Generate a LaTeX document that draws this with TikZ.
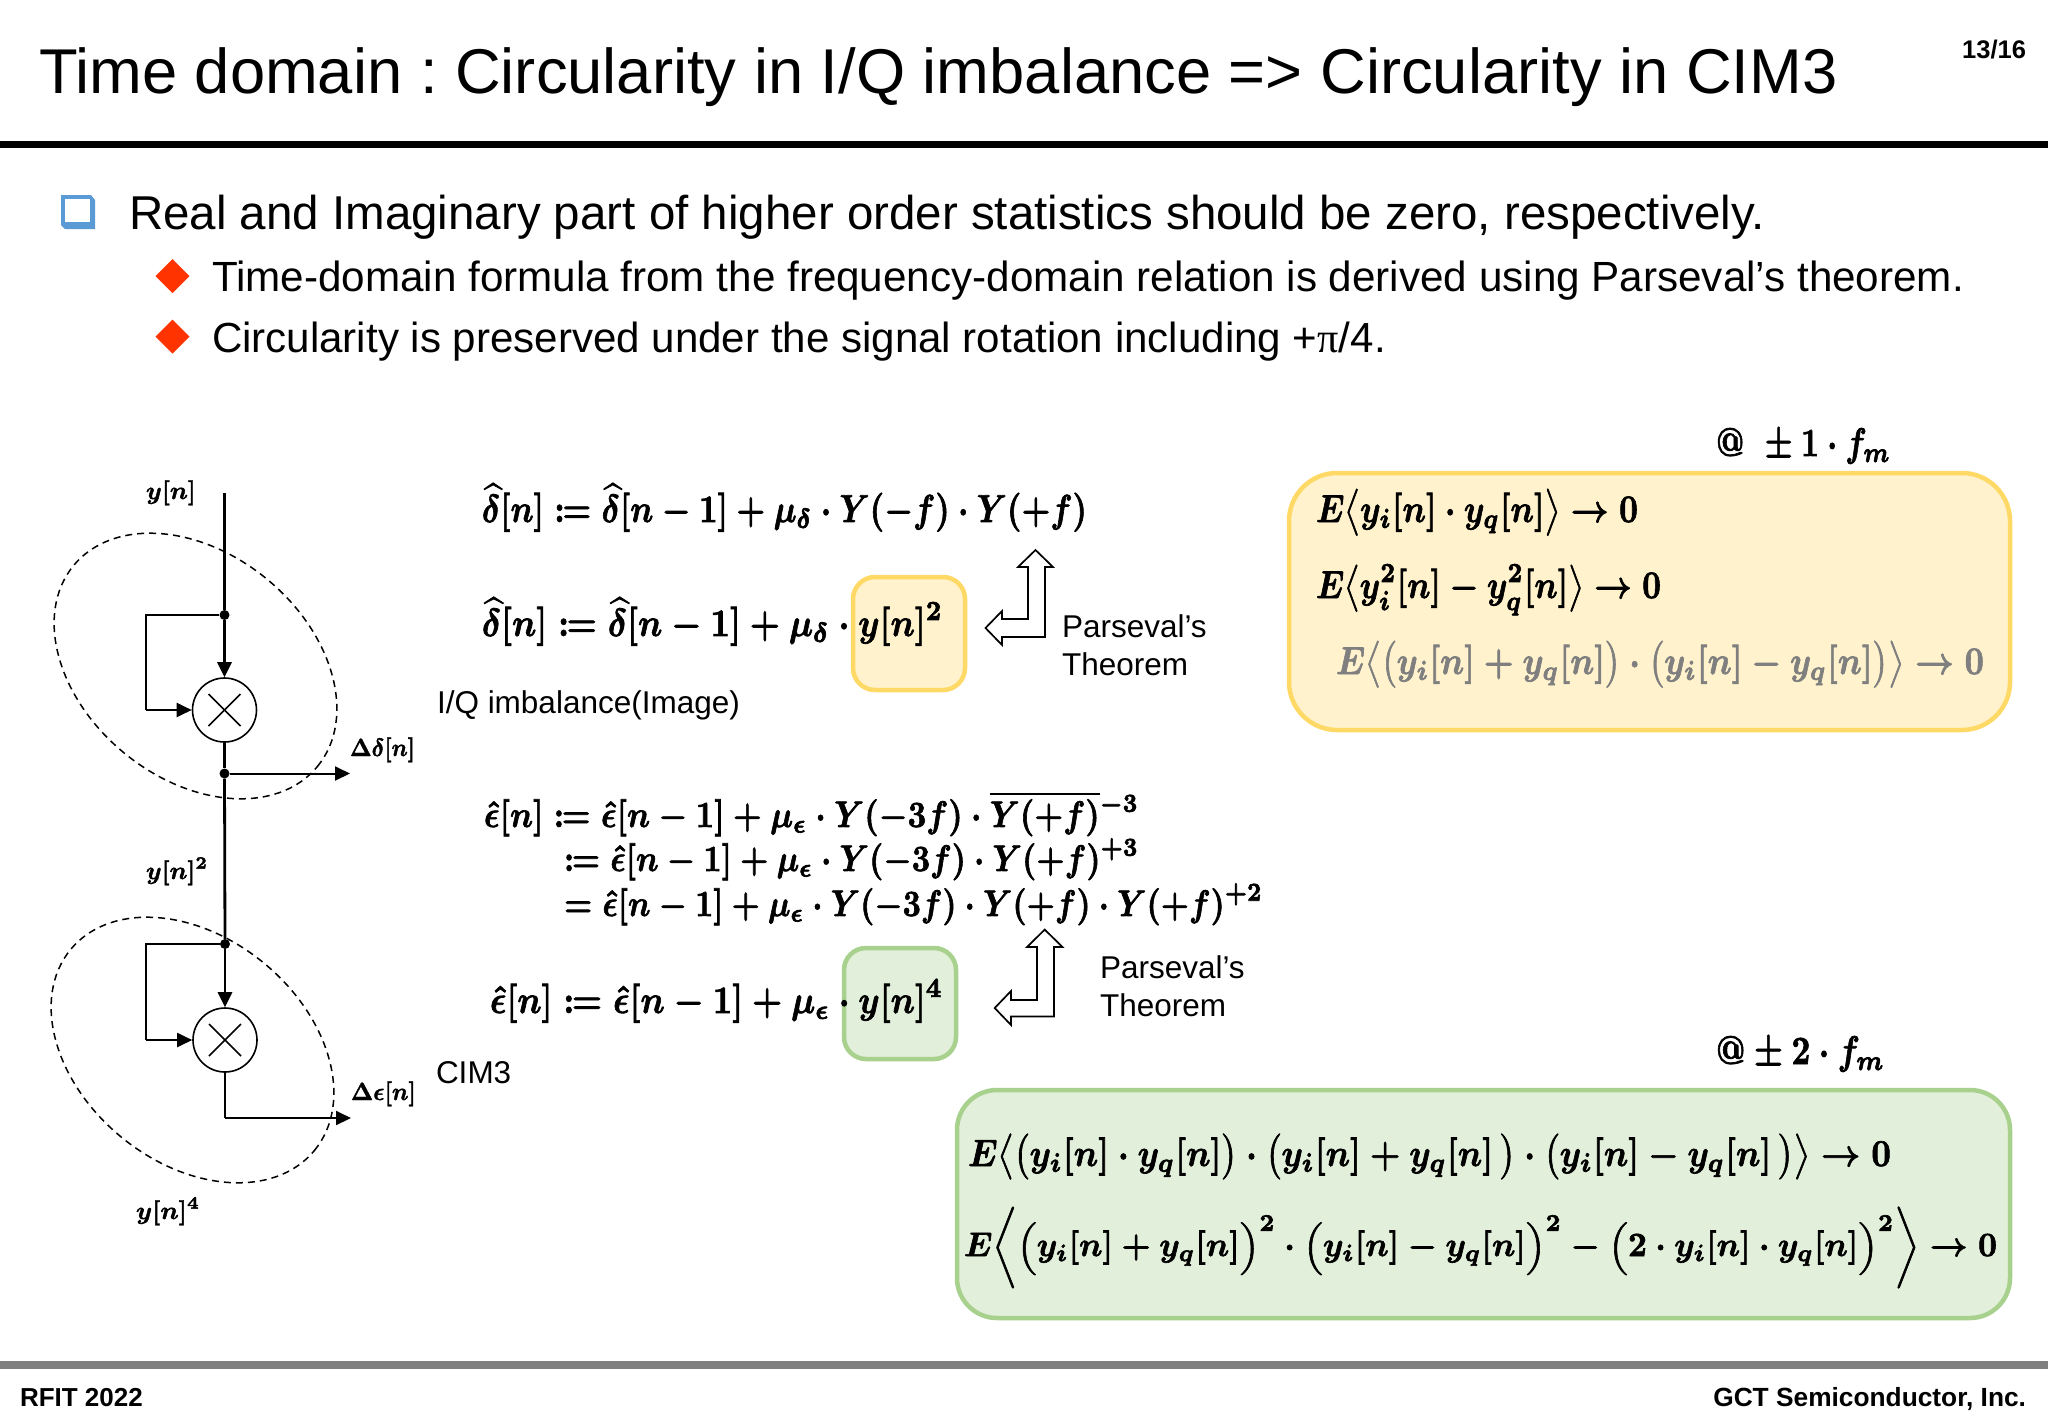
\documentclass[tikz,border=0pt]{standalone}
\usepackage[no-math]{fontspec}
\usepackage{amsmath}
\usepackage{graphicx}
\setmainfont{Liberation Sans}
\newfontfamily\symfam{Liberation Serif}
\frenchspacing
\usetikzlibrary{arrows.meta,shapes.geometric,calc}
\definecolor{yfill}{HTML}{FFF2CC}
\definecolor{ydraw}{HTML}{FFD966}
\definecolor{gfill}{HTML}{E2EFDA}
\definecolor{gdraw}{HTML}{A9D18E}
\definecolor{bluebul}{HTML}{5B9BD5}
\definecolor{redbul}{HTML}{FF3300}
\definecolor{rulegray}{HTML}{808080}
\definecolor{mgray}{HTML}{7F7F7F}
\newsavebox\fmbox
% width target, vertical scale, formula
\newcommand\fm[3]{\sbox\fmbox{\boldmath$\displaystyle #3$}\pgfmathsetmacro\fmhs{#1/\wd\fmbox}\scalebox{\fmhs}[#2]{\special{pdf:code 2 Tr 0.18 w}\usebox\fmbox\special{pdf:code 0 Tr}}}
\newcommand\cq{\mathrel{:\mkern-1.2mu=}}
\newcommand\sO{\mathopen{\scalebox{1}[0.86]{$\Bigl($}}}
\newcommand\sC{\mathclose{\scalebox{1}[0.86]{$\Bigr)$}}}
\tikzset{
  txt/.style={anchor=base west,inner sep=0pt,outer sep=0pt,align=left},
  txtr/.style={anchor=base east,inner sep=0pt,outer sep=0pt},
  mth/.style={anchor=base west,inner sep=0pt,outer sep=0pt},
  mult/.style={circle,draw,line width=1.6pt,minimum size=64pt,inner sep=0pt,fill=white},
  jdot/.style={circle,fill=black,minimum size=10pt,inner sep=0pt},
  loopc/.style={draw,ellipse,line width=1.5pt,dash pattern=on 7pt off 5pt,minimum width=316pt,minimum height=225pt,inner sep=0pt,rotate=-39.5},
  mainw/.style={line width=2.8pt},
  thinw/.style={line width=2pt},
  arr/.style={-{Triangle[length=15pt,width=14pt]}},
  hollow/.style={draw=black,line width=1.7pt,fill=white,line join=miter},
  boxy/.style={fill=yfill,draw=ydraw,line width=4.5pt},
  boxg/.style={fill=gfill,draw=gdraw,line width=4.5pt},
}
\begin{document}
\begin{tikzpicture}[x=1pt,y=-1pt]
\useasboundingbox (0,0) rectangle (2048,1422);
\fill[white] (0,0) rectangle (2048,1422);
% header
\node[txt] (title) at (39,93) {\fontsize{63.3}{64}\selectfont Time domain : Circularity in I/Q imbalance => Circularity in CIM3};
\node[txtr] (pageno) at (2026,58) {\fontsize{25.5}{26}\selectfont\bfseries 13/16};
\fill[black] (0,140.5) rectangle (2048,147.5);
% bullets
\fill[bluebul] (61,195) -- (91,195) -- (95,200) -- (95,229) -- (65,229) -- (61,225) -- cycle;
\fill[white] (65,199) rectangle (90,222);
\node[txt] (l1) at (129,229) {\fontsize{47.5}{48}\selectfont Real and Imaginary part of higher order statistics should be zero, respectively.};
\fill[redbul] (172.5,259) -- (189.5,276) -- (172.5,293) -- (155.5,276) -- cycle;
\node[txt] (l2) at (212,291) {\fontsize{42.2}{43}\selectfont Time-domain formula from the frequency-domain relation is derived using Parseval’s theorem.};
\fill[redbul] (172.5,319.5) -- (189.5,336.5) -- (172.5,353.5) -- (155.5,336.5) -- cycle;
\node[txt] (l3) at (212,352) {\fontsize{42.1}{43}\selectfont Circularity is preserved under the signal rotation including +{\symfam π}/4.};
% boxes
\draw[boxy,rounded corners=22pt] (853,577) rectangle (965,690);
\draw[boxg,rounded corners=22pt] (844,948) rectangle (956,1059);
\draw[boxy,rounded corners=48pt] (1289,473) rectangle (2010,730);
\draw[boxg,rounded corners=40pt] (957,1090) rectangle (2010,1318);
% diagram
\node[loopc] (e1) at (195.5,666) {};
\node[loopc] (e2) at (192.5,1050) {};
\coordinate (top) at (224.5,493);
\node[jdot] (d1) at (224.5,615) {};
\node[mult] (m1) at (224.5,710) {};
\node[jdot] (d2) at (224.5,773.5) {};
\node[jdot] (d3) at (225,944) {};
\node[mult] (m2) at (225,1040) {};
\coordinate (o1) at (350,773.5);
\coordinate (o2) at (351,1118);
\coordinate (c2) at (225,1118);
\coordinate (l1a) at (145.5,615);
\coordinate (l1b) at (145.5,710);
\coordinate (l2a) at (146,944);
\coordinate (l2b) at (146,1040);
\draw[mainw] (top) -- (d1);
\draw[mainw,arr] (d1) -- (m1);
\draw[mainw] (m1) -- (d2);
\draw[mainw] (d2) -- (d3);
\draw[mainw,arr] (d3) -- (m2);
\draw[thinw,arr] (d2) -- (o1);
\draw[thinw] (d1) -- (l1a) -- (l1b);
\draw[thinw,arr] (l1b) -- (m1);
\draw[thinw] (d3) -- (l2a) -- (l2b);
\draw[thinw,arr] (l2b) -- (m2);
\draw[thinw] (m2) -- (c2);
\draw[thinw,arr] (c2) -- (o2);
\foreach \m in {m1,m2}{
  \draw[line width=1.6pt] ($(\m)+(-16,-16)$) -- ($(\m)+(16,16)$);
  \draw[line width=1.6pt] ($(\m)+(-16,16)$) -- ($(\m)+(16,-16)$);
}
\node[mth] (ly1) at (146,499) {\fm{50}{2.5}{y[n]}};
\node[mth] (ld) at (350,756) {\fm{65}{2.5}{\Delta\delta[n]}};
\node[mth] (ly2) at (146,879) {\fm{62}{2.5}{y[n]^2}};
\node[mth] (le) at (351,1100) {\fm{65}{2.5}{\Delta\epsilon[n]}};
\node[mth] (ly4) at (136,1219) {\fm{64}{2.5}{y[n]^4}};
% side labels
\node[txt] (iq) at (437,713) {\fontsize{31.5}{32}\selectfont I/Q imbalance(Image)};
\node[txt] (cim) at (436,1083) {\fontsize{31.5}{32}\selectfont CIM3};
\node[txt] (p1a) at (1062,637) {\fontsize{31.5}{32}\selectfont Parseval’s};
\node[txt] (p1b) at (1062,675) {\fontsize{31.5}{32}\selectfont Theorem};
\node[txt] (p2a) at (1100,978) {\fontsize{31.5}{32}\selectfont Parseval’s};
\node[txt] (p2b) at (1100,1016) {\fontsize{31.5}{32}\selectfont Theorem};
% hollow bent arrows
\draw[hollow] (1035.5,550) -- (1053,567) -- (1045,567) -- (1045,637) -- (1002,637) -- (1002,645) -- (985.5,628) -- (1002,611) -- (1002,619) -- (1028,619) -- (1028,567) -- (1018,567) -- cycle;
\draw[hollow] (1044.7,929.6) -- (1062.5,947) -- (1054,947) -- (1054,1016.5) -- (1011,1016.5) -- (1011,1025) -- (994.7,1008) -- (1011,991) -- (1011,1000) -- (1037,1000) -- (1037,947) -- (1027,947) -- cycle;
% formulas
\node[mth] (f1) at (482,522) {\fm{605}{3.9}{\widehat{\delta}[n]\cq\widehat{\delta}[n-1]+\mu_\delta\cdot Y(-f)\cdot Y(+f)}};
\node[mth] (f2) at (482,636) {\fm{461}{3.9}{\widehat{\delta}[n]\cq\widehat{\delta}[n-1]+\mu_\delta\cdot y[n]^2}};
\node[mth] (f3a) at (484,827) {\fm{655}{3.7}{\hat{\epsilon}[n]\cq\hat{\epsilon}[n-1]+\mu_\epsilon\cdot Y(-3f)\cdot\overline{Y(+f)}{}^{-3}}};
\node[mth] (f3b) at (564,871) {\fm{575}{3.7}{\cq\hat{\epsilon}[n-1]+\mu_\epsilon\cdot Y(-3f)\cdot Y(+f)^{+3}}};
\node[mth] (f3c) at (564,916) {\fm{699}{3.7}{=\hat{\epsilon}[n-1]+\mu_\epsilon\cdot Y(-3f)\cdot Y(+f)\cdot Y(+f)^{+2}}};
\node[mth] (f4) at (490,1013) {\fm{453}{3.9}{\hat{\epsilon}[n]\cq\hat{\epsilon}[n-1]+\mu_\epsilon\cdot y[n]^4}};
\node[mth] (at1) at (1716,456) {\fm{175}{4}{@\,\,\pm1\cdot f_m}};
\node[mth] (at2) at (1716,1064) {\fm{169}{4}{@\pm2\cdot f_m}};
% yellow box formulas
\node[mth] (y1) at (1316,522) {\fm{322}{3.9}{E\bigl\langle y_i[n]\cdot y_q[n]\bigr\rangle\to 0}};
\node[mth] (y2) at (1316,598) {\fm{345}{3.9}{E\bigl\langle y_i^2[n]-y_q^2[n]\bigr\rangle\to 0}};
\node[mth,text=mgray] (y3) at (1336,674) {\fm{648}{3.9}{E\bigl\langle\bigl(y_i[n]+y_q[n]\bigr)\cdot\bigl(y_i[n]-y_q[n]\bigr)\bigr\rangle\to 0}};
% green box formulas
\node[mth] (g1) at (968,1166) {\fm{923}{3.8}{E\bigl\langle\bigl(y_i[n]\cdot y_q[n]\bigr)\cdot\bigl(y_i[n]+y_q[n]\,\bigr)\cdot\bigl(y_i[n]-y_q[n]\,\bigr)\bigr\rangle\to 0}};
\node[mth] (g2) at (964,1256) {\fm{1033}{3.4}{E\biggl\langle\sO y_i[n]+y_q[n]\sC^2\cdot\sO y_i[n]-y_q[n]\sC^2-\sO 2\cdot y_i[n]\cdot y_q[n]\sC^2\biggr\rangle\to 0}};
% footer
\fill[rulegray] (0,1361) rectangle (2048,1369);
\node[txt] (fl) at (20,1406) {\fontsize{26}{26}\selectfont\bfseries RFIT 2022};
\node[txtr] (fr) at (2026,1406) {\fontsize{26.3}{27}\selectfont\bfseries GCT Semiconductor, Inc.};
\end{tikzpicture}
\end{document}
